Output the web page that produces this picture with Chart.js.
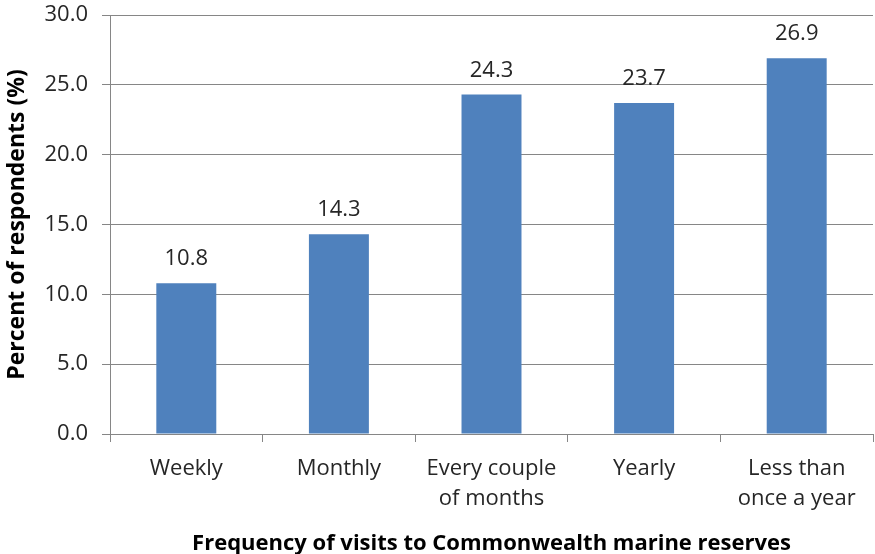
<!DOCTYPE html>
<html>
<head>
<meta charset="utf-8">
<script src="https://cdn.jsdelivr.net/npm/chart.js@4/dist/chart.umd.min.js"></script>
<style>
  html, body { margin: 0; padding: 0; background: #fff; }
  #wrap { width: 875px; height: 554px; position: relative; }
</style>
</head>
<body>
<div id="wrap"><canvas id="chart"></canvas></div>
<script>
const categories = ['Weekly', 'Monthly', ['Every couple', 'of months'], 'Yearly', ['Less than', 'once a year']];
const percents = [10.8, 14.3, 24.3, 23.7, 26.9];
const yTicks = [0, 5, 10, 15, 20, 25, 30];

const fontFamily = '"Open Sans", "Liberation Sans", sans-serif';
const textColor = '#262626';
const lineColor = '#868686';

// value labels above each bar
const barLabels = {
  id: 'barLabels',
  afterDatasetsDraw(chart) {
    const { ctx } = chart;
    const meta = chart.getDatasetMeta(0);
    ctx.save();
    ctx.font = '22px ' + fontFamily;
    ctx.fillStyle = textColor;
    ctx.textAlign = 'center';
    ctx.textBaseline = 'alphabetic';
    meta.data.forEach((bar, i) => {
      ctx.fillText(percents[i].toFixed(1), bar.x, bar.y - 18);
    });
    ctx.restore();
  }
};

new Chart(document.getElementById('chart'), {
  type: 'bar',
  data: {
    labels: categories,
    datasets: [{
      data: percents,
      backgroundColor: '#4F81BD',
      borderWidth: 0,
      categoryPercentage: 1,
      barPercentage: 0.393
    }]
  },
  options: {
    responsive: true,
    maintainAspectRatio: false,
    animation: false,
    layout: { padding: { top: 15, right: 2, bottom: 0, left: 0 } },
    plugins: {
      legend: { display: false },
      tooltip: { enabled: false }
    },
    scales: {
      x: {
        grid: {
          offset: true,
          drawOnChartArea: false,
          color: lineColor,
          tickLength: 8
        },
        border: { color: lineColor },
        ticks: {
          color: textColor,
          font: { family: fontFamily, size: 22, lineHeight: 1.4 },
          padding: 11,
          maxRotation: 0,
          autoSkip: false
        },
        title: {
          display: true,
          text: 'Frequency of visits to Commonwealth marine reserves',
          color: '#000',
          font: { family: fontFamily, size: 22, weight: 'bold' },
          padding: { top: 13, bottom: -3 }
        },
        afterFit(scale) { scale.height = 120; }
      },
      y: {
        min: 0,
        max: 30,
        afterBuildTicks(scale) {
          scale.ticks = yTicks.map(v => ({ value: v }));
        },
        grid: {
          color: lineColor,
          tickLength: 8
        },
        border: { color: lineColor },
        ticks: {
          color: textColor,
          font: { family: fontFamily, size: 22 },
          padding: 14,
          callback: v => v.toFixed(1)
        },
        title: {
          display: true,
          text: 'Percent of respondents (%)',
          color: '#000',
          font: { family: fontFamily, size: 23, weight: 'bold' },
          padding: { top: 4, bottom: 0 }
        },
        afterFit(scale) {
          scale.width = 110;
          scale.paddingTop = 0;
          scale.paddingBottom = 0;
        }
      }
    }
  },
  plugins: [barLabels]
});
</script>
</body>
</html>
